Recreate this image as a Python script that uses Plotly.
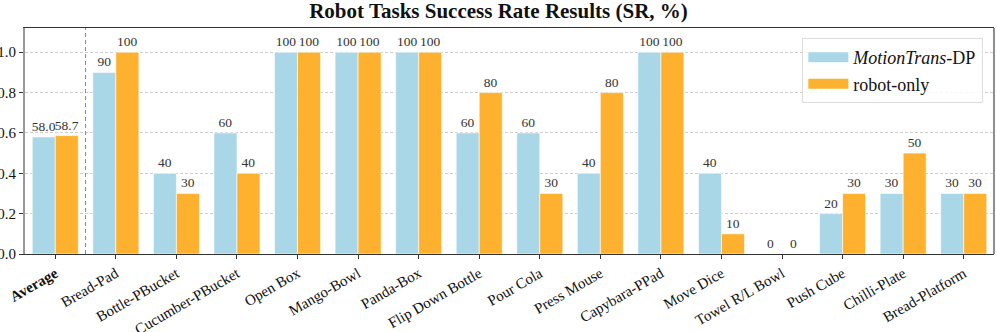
import plotly.graph_objects as go

categories = ["Average", "Bread-Pad", "Bottle-PBucket", "Cucumber-PBucket", "Open Box",
              "Mango-Bowl", "Panda-Box", "Flip Down Bottle", "Pour Cola", "Press Mouse",
              "Capybara-PPad", "Move Dice", "Towel R/L Bowl", "Push Cube", "Chilli-Plate",
              "Bread-Platform"]
motiontrans_pct = [58.0, 90, 40, 60, 100, 100, 100, 60, 60, 40, 100, 40, 0, 20, 30, 30]
robot_only_pct = [58.7, 100, 30, 40, 100, 100, 100, 80, 30, 80, 100, 10, 0, 30, 50, 30]
series_names = ["<i>MotionTrans</i>-DP", "robot-only"]
y_ticks = [0.0, 0.2, 0.4, 0.6, 0.8, 1.0]

FONT = "Liberation Serif"
BLUE = "#A9D7E8"
ORANGE = "#FDB12F"


def fmt(v, i):
    return f"{v:.1f}" if i == 0 else f"{v:.0f}"


xs = list(range(len(categories)))
ticktext = [f"<b>{c}</b>" if i == 0 else c for i, c in enumerate(categories)]

fig = go.Figure()
for vals, name, color in [(motiontrans_pct, series_names[0], BLUE),
                          (robot_only_pct, series_names[1], ORANGE)]:
    fig.add_trace(go.Bar(
        x=xs, y=[v / 100 for v in vals], name=name, showlegend=False,
        marker=dict(color=color, line=dict(color="white", width=0.6)),
        text=[fmt(v, i) for i, v in enumerate(vals)],
        textposition="outside", constraintext="none", cliponaxis=False,
        textfont=dict(family=FONT, size=13.5, color="#333333"),
    ))
# legend swatches (wide rectangles like the reference)
for name, color in [(series_names[0], BLUE), (series_names[1], ORANGE)]:
    fig.add_trace(go.Scatter(
        x=[None], y=[None], mode="lines", name=name,
        line=dict(color=color, width=13),
    ))

fig.add_shape(type="line", xref="x", yref="paper", x0=0.5, x1=0.5, y0=0, y1=1,
              line=dict(color="#888888", width=1, dash="4px,3px"))
fig.add_shape(type="line", xref="paper", yref="paper", x0=1, x1=1, y0=0, y1=1,
              line=dict(color="#444444", width=1.2))

fig.update_layout(
    width=997, height=332,
    margin=dict(l=25, r=3, t=28, b=78),
    paper_bgcolor="white", plot_bgcolor="white",
    barmode="group", bargap=0.24, bargroupgap=0.0,
    font=dict(family=FONT, size=15, color="#111111"),
    title=dict(text="<b>Robot Tasks Success Rate Results (SR, %)</b>",
               x=0.5, xanchor="center", y=0.99, yanchor="top",
               font=dict(family=FONT, size=21, color="#111111")),
    legend=dict(x=0.989, y=0.955, xanchor="right", yanchor="top",
                bgcolor="rgba(255,255,255,0.85)", bordercolor="#dddddd", borderwidth=1,
                font=dict(family=FONT, size=18, color="#111111"),
                itemwidth=40),
    showlegend=True,
)
fig.update_xaxes(
    tickmode="array", tickvals=xs, ticktext=ticktext, tickangle=-30,
    range=[-0.5, len(categories) - 0.5], automargin=False,
    showline=True, linecolor="#333333", linewidth=1.2, mirror=True,
    ticks="outside", ticklen=4, tickcolor="#333333",
    showgrid=False, tickfont=dict(family=FONT, size=15, color="#111111"),
)
fig.update_yaxes(
    range=[0, 1.12], tickvals=y_ticks, tickformat=".1f", automargin=False,
    showline=True, linecolor="#999999", linewidth=2,
    ticks="outside", ticklen=4, tickcolor="#333333",
    showgrid=True, gridcolor="#cccccc", griddash="3px,2px", gridwidth=0.8,
    zeroline=False, tickfont=dict(family=FONT, size=15, color="#111111"),
)

fig.write_html("out.html", config={"displayModeBar": False},
               post_script="document.body.style.margin='0px';document.body.style.overflow='hidden';")
